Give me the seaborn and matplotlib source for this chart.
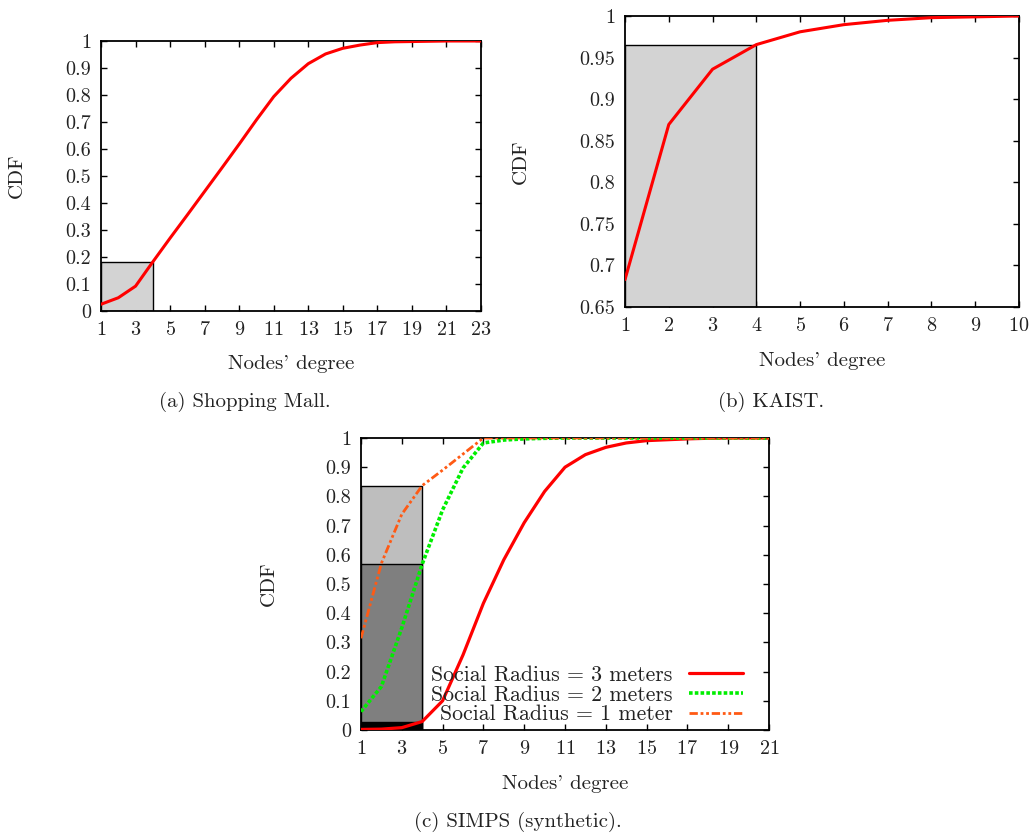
import numpy as np
import pandas as pd
import matplotlib
matplotlib.use("Agg")
import matplotlib.pyplot as plt
import seaborn as sns
from matplotlib.lines import Line2D

# ---- data -------------------------------------------------------------
mall_degree = list(range(1, 24))
mall_cdf = [0.025, 0.049, 0.092, 0.182, 0.270, 0.356, 0.443, 0.530, 0.618,
            0.708, 0.794, 0.862, 0.916, 0.952, 0.973, 0.985, 0.994, 0.997,
            0.998, 0.999, 1.0, 1.0, 1.0]

kaist_degree = list(range(1, 11))
kaist_cdf = [0.683, 0.8695, 0.936, 0.9656, 0.981, 0.9896, 0.9948, 0.998,
             0.999, 1.0]

simps_degree = list(range(1, 22))
simps_r3 = [0.002, 0.003, 0.008, 0.029, 0.100, 0.257, 0.434, 0.583, 0.710,
            0.817, 0.900, 0.943, 0.968, 0.983, 0.991, 0.994, 0.997, 0.999,
            1.0, 1.0, 1.0]
simps_r2 = [0.063, 0.149, 0.350, 0.568, 0.754, 0.897, 0.983, 0.993, 0.997,
            0.999, 1.0, 1.0, 1.0, 1.0, 1.0, 1.0, 1.0, 1.0, 1.0, 1.0, 1.0]
simps_r1 = [0.314, 0.571, 0.739, 0.837, 0.890, 0.945, 1.0, 1.0, 1.0, 1.0,
            1.0, 1.0, 1.0, 1.0, 1.0, 1.0, 1.0, 1.0, 1.0, 1.0, 1.0]

series_labels = ["Social Radius = 3 meters", "Social Radius = 2 meters",
                 "Social Radius = 1 meter"]
captions = ["(a) Shopping Mall.", "(b) KAIST.", "(c) SIMPS (synthetic)."]
highlight_degree = 4

# ---- style ------------------------------------------------------------
sns.set_theme(style="ticks")
plt.rcParams["font.family"] = ["cmr10", "DejaVu Serif"]
plt.rcParams["axes.formatter.use_mathtext"] = True
plt.rcParams["text.color"] = "#222222"
plt.rcParams["axes.labelcolor"] = "#222222"

TICK_FS = 14.5
LABEL_FS = 15
CAP_FS = 15
LEG_FS = 15.7

fig = plt.figure(figsize=(10.36, 8.4), dpi=100)
W, H = 1036, 840


def px_axes(l, t, r, b):
    return fig.add_axes([l / W, 1 - b / H, (r - l) / W, (b - t) / H])


def style_axes(ax, ylab_x, xlab_y):
    for s in ax.spines.values():
        s.set_linewidth(1.3)
        s.set_color("black")
    ax.tick_params(direction="in", top=True, right=True, length=4,
                   width=1.0, labelsize=TICK_FS, pad=7, colors="black",
                   labelcolor="#222222")
    ax.set_xlabel("Nodes' degree", fontsize=LABEL_FS)
    ax.set_ylabel("CDF", fontsize=LABEL_FS)
    ax.yaxis.set_label_coords(ylab_x, 0.5)
    ax.xaxis.set_label_coords(0.5, xlab_y)


def highlight(ax, degree, cdf, color, base=0.0):
    i = degree.index(highlight_degree)
    ax.bar([degree[0]], [cdf[i] - base], bottom=base,
           width=highlight_degree - degree[0], align="edge",
           color=color, edgecolor="black", linewidth=1.0, zorder=1)


red = "#ff0000"
green = "#00ee00"
orange = "#ff5a14"

# ---- (a) Shopping Mall -------------------------------------------------
ax_a = px_axes(101, 41, 481, 311)
df_a = pd.DataFrame({"degree": mall_degree, "cdf": mall_cdf})
highlight(ax_a, mall_degree, mall_cdf, "#d3d3d3")
sns.lineplot(data=df_a, x="degree", y="cdf", ax=ax_a, color=red,
             linewidth=2.2, zorder=3)
ax_a.set_xlim(1, 23)
ax_a.set_ylim(0, 1)
ax_a.set_xticks(range(1, 24, 2))
ax_a.set_yticks(np.arange(0, 1.01, 0.1))
ax_a.set_yticklabels(["0"] + [f"{v:.1f}" for v in np.arange(0.1, 0.95, 0.1)] + ["1"])
style_axes(ax_a, -0.197, -0.162)

# ---- (b) KAIST ---------------------------------------------------------
ax_b = px_axes(625, 16, 1019, 307)
df_b = pd.DataFrame({"degree": kaist_degree, "cdf": kaist_cdf})
highlight(ax_b, kaist_degree, kaist_cdf, "#d3d3d3", base=0.65)
sns.lineplot(data=df_b, x="degree", y="cdf", ax=ax_b, color=red,
             linewidth=2.2, zorder=3)
ax_b.set_xlim(1, 10)
ax_b.set_ylim(0.65, 1)
ax_b.set_xticks(range(1, 11))
yt = [0.65, 0.7, 0.75, 0.8, 0.85, 0.9, 0.95, 1.0]
ax_b.set_yticks(yt)
ax_b.set_yticklabels([("%g" % v) for v in yt])
style_axes(ax_b, -0.241, -0.155)

# ---- (c) SIMPS ---------------------------------------------------------
ax_c = px_axes(361, 438, 769, 730)
df_c = pd.DataFrame({
    "degree": simps_degree * 3,
    "cdf": simps_r3 + simps_r2 + simps_r1,
    "series": sum([[s] * len(simps_degree) for s in series_labels], []),
})
highlight(ax_c, simps_degree, simps_r1, "#bebebe")
highlight(ax_c, simps_degree, simps_r2, "#7f7f7f")
highlight(ax_c, simps_degree, simps_r3, "#000000")
palette = {series_labels[0]: red, series_labels[1]: green,
           series_labels[2]: orange}
sns.lineplot(data=df_c, x="degree", y="cdf", hue="series", ax=ax_c,
             palette=palette, linewidth=2.2, legend=False, zorder=3)
line_styles = [("-", 2.3), ((0, (1.0, 0.6)), 2.6), ((0, (3, 1, 1, 1, 1, 1)), 2.0)]
for ln, (ls, lw) in zip(ax_c.get_lines(), line_styles):
    ln.set_linestyle(ls)
    ln.set_linewidth(lw)
ax_c.set_xlim(1, 21)
ax_c.set_ylim(0, 1)
ax_c.set_xticks(range(1, 22, 2))
ax_c.set_yticks(np.arange(0, 1.01, 0.1))
ax_c.set_yticklabels(["0"] + [f"{v:.1f}" for v in np.arange(0.1, 0.95, 0.1)] + ["1"])
style_axes(ax_c, -0.203, -0.154)

handles = [Line2D([0], [0], color=c, linestyle=ls, linewidth=lw)
           for c, (ls, lw) in zip([red, green, orange], line_styles)]
ax_c.legend(handles, series_labels, loc="lower right", frameon=False,
            markerfirst=False, fontsize=LEG_FS, handlelength=2.5,
            handletextpad=0.75, labelspacing=0.0, borderaxespad=0.0,
            borderpad=0.0, bbox_to_anchor=(0.937, 0.02))

# ---- captions ----------------------------------------------------------
fig.text(245 / W, 1 - 402 / H, captions[0], ha="center", va="center",
         fontsize=CAP_FS)
fig.text(771 / W, 1 - 402 / H, captions[1], ha="center", va="center",
         fontsize=CAP_FS)
fig.text(518 / W, 1 - 822 / H, captions[2], ha="center", va="center",
         fontsize=CAP_FS)

fig.savefig("out.png", dpi=100, facecolor="white")
